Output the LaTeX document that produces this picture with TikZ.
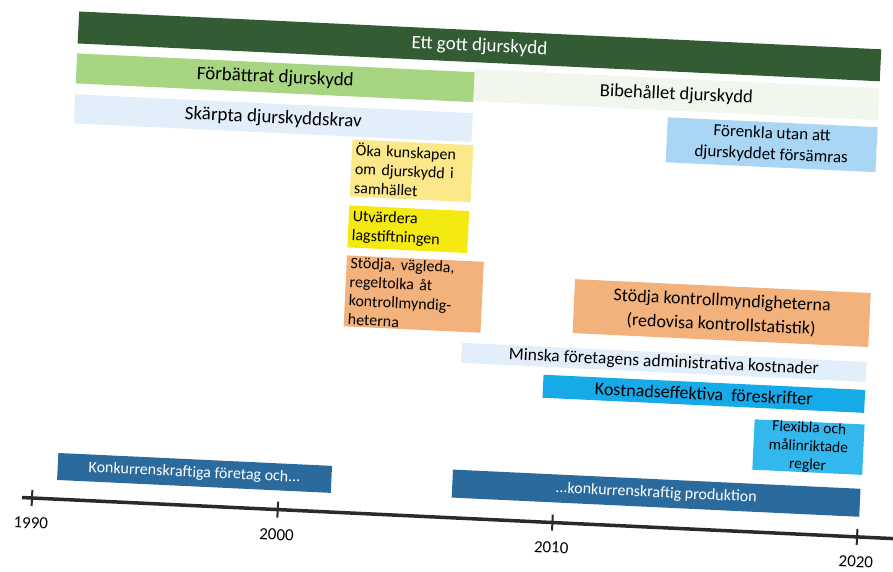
\documentclass[tikz,border=0pt]{standalone}
\usepackage{fontspec}
\setmainfont{Carlito}
\definecolor{GoalGreen}{HTML}{335B34}
\definecolor{ImproveGreen}{HTML}{A8D582}
\definecolor{KeepGreen}{HTML}{F1F7EC}
\definecolor{PaleBlue}{HTML}{E2EEF9}
\definecolor{SkyBlue}{HTML}{A9D6F5}
\definecolor{PaleYellow}{HTML}{FAE88A}
\definecolor{Lemon}{HTML}{F4EA12}
\definecolor{Peach}{HTML}{F3B27C}
\definecolor{Cyan}{HTML}{17AAE8}
\definecolor{LightCyan}{HTML}{33B8EE}
\definecolor{SteelBlue}{HTML}{2B6A9C}
\definecolor{AxisGrey}{HTML}{2A2A2A}
\newcommand{\fsize}[2]{\fontsize{#1}{#2}\selectfont}

\begin{document}
\begin{tikzpicture}[x=1pt,y=1pt,
    bar/.style={anchor=south west,inner sep=0pt,align=center,text=black},
    leftbox/.style={bar,align=left,inner xsep=4pt,font=\fsize{16}{19}},
    axisline/.style={line width=3.5pt,draw=AxisGrey},
    tick/.style={line width=2pt,draw=AxisGrey},
    yearlabel/.style={font=\fsize{17}{20}}
  ]
  \useasboundingbox[fill=white] (0,0) rectangle (893,572);
  \begin{scope}[shift={(32,74)},rotate=-2.7,transform shape]
    % rows across the top
    \node[bar,fill=GoalGreen,text=white,minimum width=803,minimum height=32,
      font=\fsize{19}{22}] (goal) at (24,456) {Ett gott djurskydd};
    \node[bar,fill=ImproveGreen,minimum width=398,minimum height=30,
      font=\fsize{19}{22}] (improve) at (24,416) {Förbättrat djurskydd};
    \node[bar,fill=KeepGreen,minimum width=405,minimum height=32,
      font=\fsize{18.5}{22}] (keep) at (422,417) {Bibehållet djurskydd};
    \node[bar,fill=PaleBlue,minimum width=398,minimum height=29,
      font=\fsize{19}{22}] (sharpen) at (24,376) {Skärpta djurskyddskrav};
    \node[bar,fill=SkyBlue,minimum width=210,minimum height=45,
      font=\fsize{17}{21}] (simplify) at (617,365)
      {Förenkla utan att\\djurskyddet försämras};
    % narrow boxes
    \node[leftbox,fill=PaleYellow,text width=113,minimum height=57] (knowledge)
      at (303,316) {Öka kunskapen\\om djurskydd i\\samhället};
    \node[leftbox,fill=Lemon,text width=112,minimum height=42] (evaluate)
      at (303,265) {Utvärdera\\lagstiftningen};
    \node[leftbox,fill=Peach,text width=129,minimum height=71] (guide)
      at (303,186) {Stödja, vägleda,\\regeltolka åt\\kontrollmyndig-\\heterna};
    \node[bar,fill=Peach,minimum width=296,minimum height=54,
      font=\fsize{18}{24}] (support) at (532,190)
      {Stödja kontrollmyndigheterna\\(redovisa kontrollstatistik)};
    % cost rows
    \node[bar,fill=PaleBlue,minimum width=405,minimum height=20,
      font=\fsize{17.5}{20}] (reduce) at (422,155)
      {Minska företagens administrativa kostnader};
    \node[bar,fill=Cyan,minimum width=322,minimum height=23,
      font=\fsize{18}{21}] (costeff) at (505,124)
      {Kostnadseffektiva\ \ föreskrifter};
    \node[bar,fill=LightCyan,minimum width=110,minimum height=50,
      font=\fsize{15.5}{18.5}] (flexible) at (718,62)
      {Flexibla och\\målinriktade\\regler};
    \node[bar,fill=SteelBlue,text=white,minimum width=274,minimum height=27,
      font=\fsize{16}{18}] (compfirms) at (24,19)
      {Konkurrenskraftiga företag och...};
    \node[bar,fill=SteelBlue,text=white,minimum width=408,minimum height=28,
      font=\fsize{16}{18}] (compprod) at (419,20)
      {...konkurrenskraftig produktion};
    % time axis
    \coordinate (axisstart) at (-10,0);
    \coordinate (axisend) at (862,0);
    \draw[axisline] (axisstart) -- (axisend);
    \foreach \yr/\pos in {1990/0,2000/246,2010/521,2020/826}{
      \draw[tick] (\pos,8) -- (\pos,-8);
      \node[yearlabel] (year\yr) at (\pos,-25) {\yr};
    }
  \end{scope}
\end{tikzpicture}
\end{document}
